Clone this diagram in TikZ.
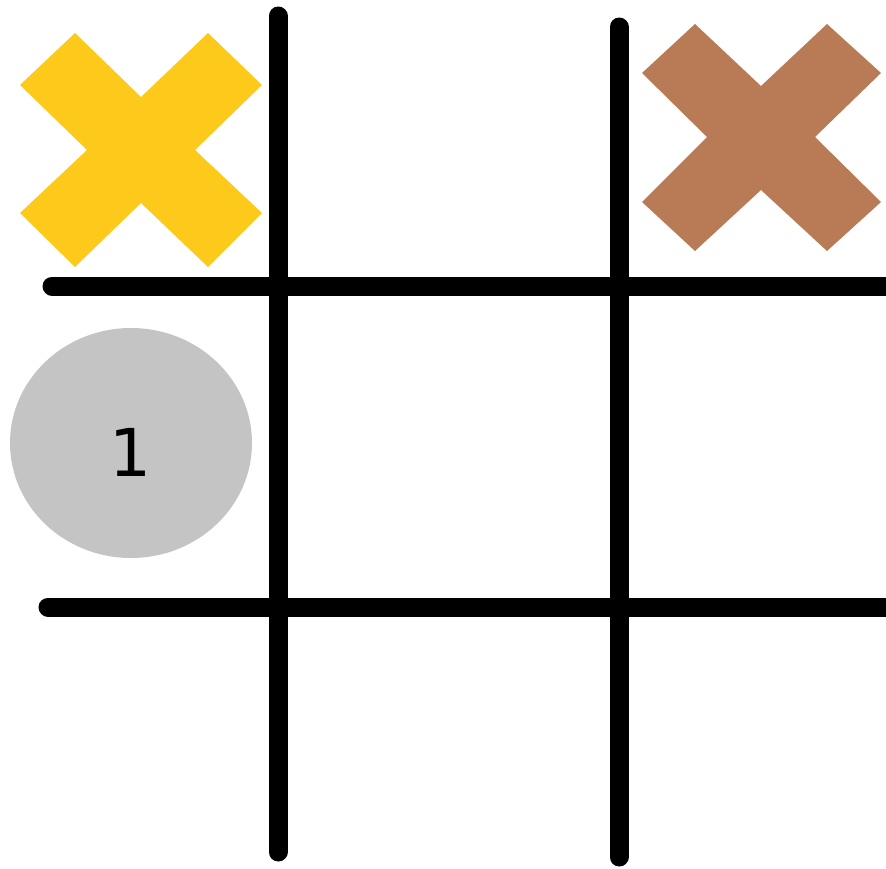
\documentclass[tikz,border=0pt]{standalone}
\usepackage{fontspec}
\newfontfamily\digitfont{DejaVu Sans}
\definecolor{xyellow}{HTML}{FDC91A}
\definecolor{xbrown}{HTML}{B87B56}
\definecolor{oggrey}{HTML}{C4C4C4}
\tikzset{gridline/.style={line width=19pt, line cap=round, black}}
\begin{document}
\begin{tikzpicture}[x=1pt,y=-1pt]
\useasboundingbox (0,0) rectangle (886,868);
% grid
\coordinate (v1t) at (278,16);
\coordinate (v1b) at (278,852);
\coordinate (v2t) at (619,27);
\coordinate (v2b) at (619,857);
\coordinate (h1l) at (52,286);
\coordinate (h1r) at (900,286);
\coordinate (h2l) at (48,607);
\coordinate (h2r) at (900,607);
\draw[gridline] (v1t) -- (v1b);
\draw[gridline] (v2t) -- (v2b);
\draw[gridline] (h1l) -- (h1r);
\draw[gridline] (h2l) -- (h2r);
% yellow X
\fill[xyellow] (75,33) -- (141,97) -- (208,33) -- (262,85) -- (195,150) -- (262,213) -- (208,267) -- (141,203) -- (75,267) -- (20,213) -- (87,150) -- (20,85) -- cycle;
% brown X
\fill[xbrown] (695,24) -- (761,86) -- (827,24) -- (881,73) -- (815,137) -- (881,202) -- (827,251) -- (761,190) -- (695,251) -- (642,202) -- (707,137) -- (642,73) -- cycle;
% grey O
\fill[oggrey] (131,443) ellipse [x radius=121, y radius=115];
\node (one) at (130,452) {\digitfont\fontsize{66}{70}\selectfont 1};
\end{tikzpicture}
\end{document}
